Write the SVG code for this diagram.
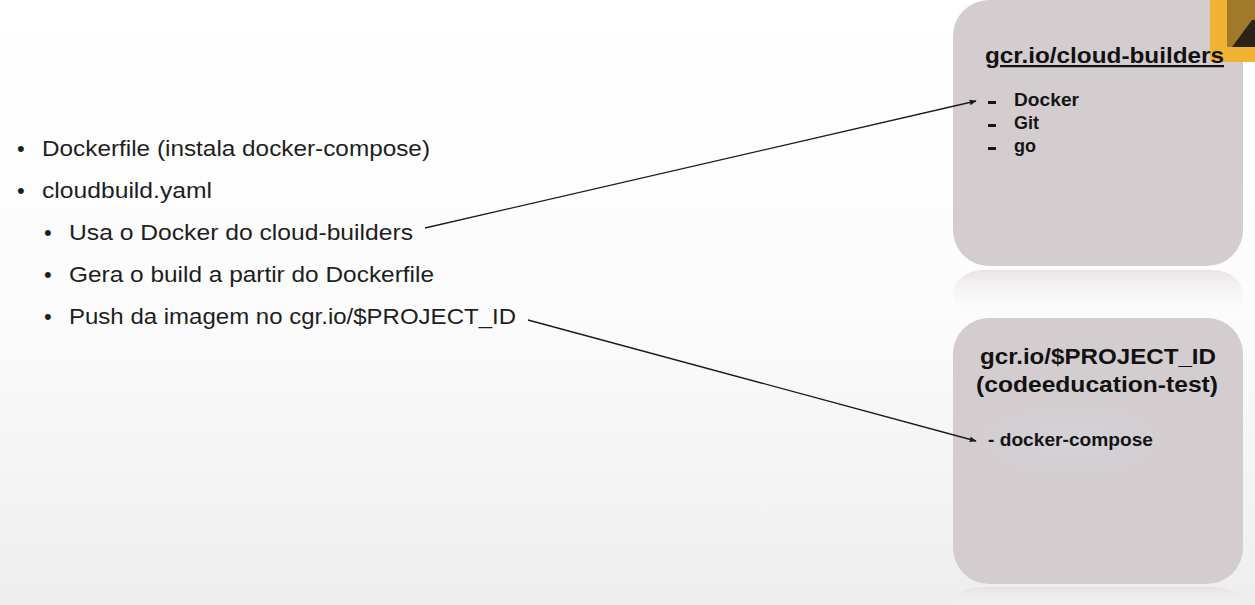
<svg xmlns="http://www.w3.org/2000/svg" width="1255" height="605" viewBox="0 0 1255 605">
<defs>
<linearGradient id="bg" x1="0" y1="0" x2="0" y2="1">
<stop offset="0" stop-color="#ffffff"/>
<stop offset="0.5" stop-color="#fcfcfc"/>
<stop offset="1" stop-color="#efeeef"/>
</linearGradient>
<linearGradient id="refl" x1="0" y1="0" x2="0" y2="1">
<stop offset="0" stop-color="#e6e1e3" stop-opacity="0.9"/>
<stop offset="1" stop-color="#ffffff" stop-opacity="0"/>
</linearGradient>
<radialGradient id="halo" cx="0.5" cy="0.5" r="0.5">
<stop offset="0" stop-color="#d3d2d6"/>
<stop offset="0.7" stop-color="#d2cfd3"/>
<stop offset="1" stop-color="#d3cdd0" stop-opacity="0"/>
</radialGradient>
<marker id="arr" viewBox="0 0 10 10" refX="9" refY="5" markerWidth="7" markerHeight="7" orient="auto" markerUnits="userSpaceOnUse">
<path d="M0,1 L10,5 L0,9 z" fill="#1a1a1a"/>
</marker>
</defs>
<style>
.box{fill:#d4cdd0}
.bl{font-family:"Liberation Sans",Arial,sans-serif;font-size:22px;fill:#1e1e1e}
.hd{font-family:"Liberation Sans",Arial,sans-serif;font-size:22.5px;font-weight:bold;fill:#111}
.it{font-family:"Liberation Sans",Arial,sans-serif;font-size:18px;font-weight:bold;fill:#151515}
.cn{stroke:#1a1a1a;stroke-width:1.3;fill:none}
</style>
<rect width="1255" height="605" fill="url(#bg)"/>

<g id="bullets">
<text class="bl" x="17" y="156">•</text><text class="bl" x="42" y="156" textLength="388" lengthAdjust="spacingAndGlyphs">Dockerfile (instala docker-compose)</text>
<text class="bl" x="17" y="198">•</text><text class="bl" x="42" y="198" textLength="170" lengthAdjust="spacingAndGlyphs">cloudbuild.yaml</text>
<text class="bl" x="44" y="240">•</text><text class="bl" x="69" y="240" textLength="344" lengthAdjust="spacingAndGlyphs">Usa o Docker do cloud-builders</text>
<text class="bl" x="44" y="282">•</text><text class="bl" x="69" y="282" textLength="365" lengthAdjust="spacingAndGlyphs">Gera o build a partir do Dockerfile</text>
<text class="bl" x="44" y="324">•</text><text class="bl" x="69" y="324" textLength="447" lengthAdjust="spacingAndGlyphs">Push da imagem no cgr.io/$PROJECT_ID</text>
</g>

<g id="node-cloud-builders-box">
<rect class="box" x="953" y="0" width="290" height="266" rx="36"/>
<rect x="953" y="270" width="290" height="50" rx="30" fill="url(#refl)"/>
</g>

<g id="logo">
<rect x="1210" y="0" width="45" height="62" fill="#f2b234"/>
<rect x="1227" y="0" width="28" height="47" fill="#a07a2a"/>
<path d="M1232,47 L1252,20 L1255,20 L1255,47 z" fill="#2b2317"/>
</g>

<g id="node-cloud-builders">
<text class="hd" x="985" y="63" textLength="239" lengthAdjust="spacingAndGlyphs" text-decoration="underline">gcr.io/cloud-builders</text>
<rect x="988" y="101" width="8" height="3" fill="#151515"/><text class="it" x="1014" y="106" textLength="65" lengthAdjust="spacingAndGlyphs">Docker</text>
<rect x="988" y="124" width="8" height="3" fill="#151515"/><text class="it" x="1014" y="129">Git</text>
<rect x="988" y="147" width="8" height="3" fill="#151515"/><text class="it" x="1014" y="152">go</text>
</g>

<g id="node-project">
<rect class="box" x="953" y="318" width="290" height="266" rx="36"/>
<rect x="953" y="587" width="290" height="30" rx="30" fill="url(#refl)"/>
<ellipse cx="1072" cy="440" rx="105" ry="40" fill="url(#halo)"/>
<text class="hd" x="980" y="364" textLength="236" lengthAdjust="spacingAndGlyphs">gcr.io/$PROJECT_ID</text>
<text class="hd" x="976" y="392" textLength="242" lengthAdjust="spacingAndGlyphs">(codeeducation-test)</text>
<text class="it" x="988" y="446" textLength="165" lengthAdjust="spacingAndGlyphs">- docker-compose</text>
</g>

<g id="connectors">
<line class="cn" x1="425" y1="228" x2="976" y2="101" marker-end="url(#arr)"/>
<line class="cn" x1="528" y1="320" x2="976" y2="441" marker-end="url(#arr)"/>
</g>
</svg>
